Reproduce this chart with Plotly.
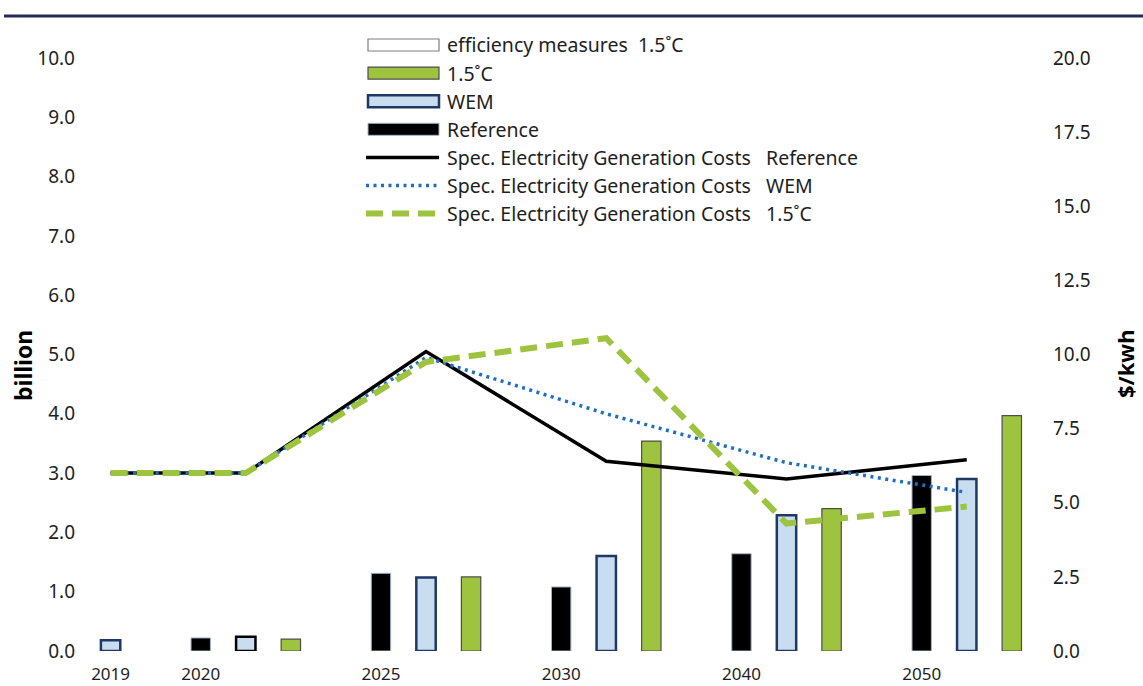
import plotly.graph_objects as go

# ---- data -----------------------------------------------------------------
years = ["2019", "2020", "2025", "2030", "2040", "2050"]

# investment volumes (billion), left axis
reference_bn = [None, 0.22, 1.31, 1.08, 1.64, 2.96]
wem_bn = [0.18, 0.24, 1.24, 1.60, 2.29, 2.90]
c15_bn = [None, 0.20, 1.25, 3.54, 2.40, 3.97]
efficiency_bn = [0, 0, 0, 0, 0, 0]

# specific electricity generation costs ($/kwh), right axis
cost_reference = [6.0, 6.0, 10.1, 6.4, 5.8, 6.45]
cost_wem = [6.0, 6.0, 9.9, 8.0, 6.35, 5.35]
cost_c15 = [6.0, 6.0, 9.75, 10.55, 4.3, 4.87]

# ---- styling --------------------------------------------------------------
FONT = "Noto Sans"
TXT = "#1e1e1e"
GREEN = "#9ec43f"
LIGHTBLUE = "#c9ddf1"
NAVY = "#203864"
DOTBLUE = "#1f6fc0"
RULE = "#232a5c"

W, H = 1143, 686
PL, PR, PT, PB = 78, 1050, 58, 651          # plot area in pixels
SLOT_PX, SLOT0_PX = 45.06, 110.6            # one bar slot, position of slot 0
BAR_W = 0.43

# bars of each year are packed side by side, empty entries take no slot
series = [reference_bn, wem_bn, c15_bn, efficiency_bn]
pos = [[None] * len(years) for _ in series]
slot = 0
starts = []
for i in range(len(years)):
    starts.append(slot)
    for s, vals in enumerate(series):
        if vals[i] is not None:
            pos[s][i] = slot
            slot += 1

x_range = [(PL - SLOT0_PX) / SLOT_PX, (PR - SLOT0_PX) / SLOT_PX]


def bar(s, values, fill, line_color, line_width):
    xs = [p for p, v in zip(pos[s], values) if v is not None]
    ys = [v for v in values if v is not None]
    return go.Bar(x=xs, y=ys, width=BAR_W, marker=dict(color=fill, line=dict(color=line_color, width=line_width)),
                  showlegend=False, hoverinfo="skip")


fig = go.Figure()
fig.add_trace(bar(0, reference_bn, "#000000", "#9fb4c8", 1))
wem_edges = [NAVY if y != "2020" else "#000000" for y, v in zip(years, wem_bn) if v is not None]
fig.add_trace(bar(1, wem_bn, LIGHTBLUE, wem_edges, 2.5))
fig.add_trace(bar(2, c15_bn, GREEN, "#4d4d4d", 1.2))

line_x = pos[1]
fig.add_trace(go.Scatter(x=line_x, y=cost_reference, yaxis="y2", mode="lines",
                         line=dict(color="#000000", width=3.5), showlegend=False, hoverinfo="skip"))
fig.add_trace(go.Scatter(x=line_x, y=cost_wem, yaxis="y2", mode="lines",
                         line=dict(color=DOTBLUE, width=3.5, dash="3px,4.5px"), showlegend=False, hoverinfo="skip"))
fig.add_trace(go.Scatter(x=line_x, y=cost_c15, yaxis="y2", mode="lines",
                         line=dict(color=GREEN, width=6, dash="17px,9px"), showlegend=False, hoverinfo="skip"))


def px_x(px):
    return (px - PL) / (PR - PL)


def px_y(py):
    return (PB - py) / (PB - PT)


shapes = []
annotations = []

# heading rule
shapes.append(dict(type="line", xref="paper", yref="paper", x0=px_x(4), x1=px_x(W), y0=px_y(16), y1=px_y(16),
                   line=dict(color=RULE, width=3)))

# legend block
NB = "\u00a0"
legend_rows = [
    ("efficiency measures" + NB * 2 + "1.5˚C", "rect", dict(fill="#ffffff", edge="#7f7f7f", w=1.2)),
    ("1.5˚C", "rect", dict(fill=GREEN, edge="#4d4d4d", w=1.2)),
    ("WEM", "rect", dict(fill=LIGHTBLUE, edge=NAVY, w=2.5)),
    ("Reference", "rect", dict(fill="#000000", edge="#9fb4c8", w=1)),
    ("Spec. Electricity Generation Costs" + NB * 3 + "Reference", "line", dict(color="#000000", w=3.5, dash="solid")),
    ("Spec. Electricity Generation Costs" + NB * 3 + "WEM", "line", dict(color=DOTBLUE, w=3.5, dash="3px,4.5px")),
    ("Spec. Electricity Generation Costs" + NB * 3 + "1.5˚C", "line", dict(color=GREEN, w=6, dash="17px,9px")),
]
row0, row_step = 45.0, 28.1
for k, (label, kind, st) in enumerate(legend_rows):
    cy = row0 + k * row_step
    if kind == "rect":
        shapes.append(dict(type="rect", xref="paper", yref="paper", x0=px_x(368), x1=px_x(439),
                           y0=px_y(cy - 6), y1=px_y(cy + 6), fillcolor=st["fill"],
                           line=dict(color=st["edge"], width=st["w"])))
    else:
        shapes.append(dict(type="line", xref="paper", yref="paper", x0=px_x(366), x1=px_x(439),
                           y0=px_y(cy), y1=px_y(cy), line=dict(color=st["color"], width=st["w"], dash=st["dash"])))
    annotations.append(dict(text=label, xref="paper", yref="paper", x=px_x(445), y=px_y(cy),
                            xanchor="left", yanchor="middle", showarrow=False,
                            font=dict(family=FONT, size=19.5, color=TXT)))

# axis titles
annotations.append(dict(text="<b>billion</b>", xref="paper", yref="paper", x=px_x(23), y=px_y(366),
                        xanchor="center", yanchor="middle", textangle=-90, showarrow=False,
                        font=dict(family=FONT, size=23, color="#000000")))
annotations.append(dict(text="<b>$/kwh</b>", xref="paper", yref="paper", x=px_x(1125), y=px_y(364),
                        xanchor="center", yanchor="middle", textangle=-90, showarrow=False,
                        font=dict(family=FONT, size=22, color="#000000")))

fig.update_layout(
    width=W, height=H,
    margin=dict(l=PL, r=W - PR, t=PT, b=H - PB),
    paper_bgcolor="white", plot_bgcolor="white",
    barmode="overlay",
    showlegend=False,
    font=dict(family=FONT, color=TXT),
    xaxis=dict(range=x_range, tickmode="array", tickvals=starts, ticktext=years, automargin=False,
               showgrid=False, zeroline=False, showline=False, ticks="",
               tickfont=dict(family=FONT, size=17, color=TXT), ticklabelstandoff=11),
    yaxis=dict(range=[0, 10], dtick=1, tickformat=".1f", showgrid=False, zeroline=False, showline=False,
               automargin=False, ticks="", tickfont=dict(family=FONT, size=19, color=TXT), ticklabelstandoff=2),
    yaxis2=dict(range=[0, 20], dtick=2.5, tickformat=".1f", overlaying="y", side="right", automargin=False,
                showgrid=False, zeroline=False, showline=False, ticks="",
                tickfont=dict(family=FONT, size=19, color=TXT), ticklabelstandoff=2),
    shapes=shapes,
    annotations=annotations,
)

fig.write_html("out.html")
